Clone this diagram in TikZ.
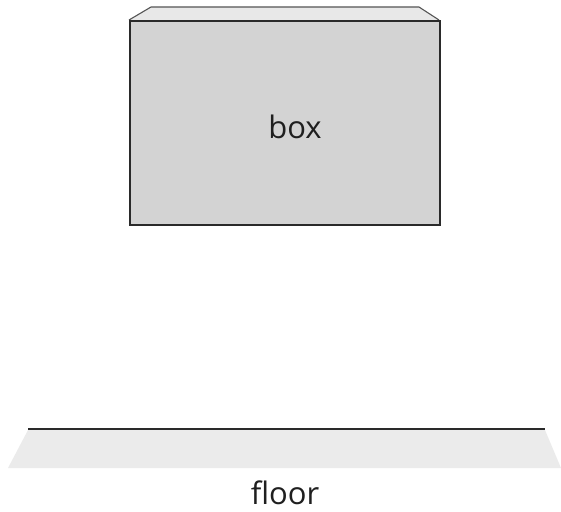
\documentclass[tikz,border=0pt]{standalone}
\usepackage{fontspec}
\setmainfont{Open Sans}
\definecolor{boxgray}{HTML}{D3D3D3}
\definecolor{topgray}{HTML}{E8E8E8}
\definecolor{floorgray}{HTML}{EBEBEB}
\definecolor{edge}{HTML}{2A2A2A}
\begin{document}
\begin{tikzpicture}[x=1pt,y=-1pt,
  edgeline/.style={draw=edge,line width=1.6pt,line join=miter},
  lbl/.style={font=\fontsize{31}{36}\selectfont,text=black!88,inner sep=0pt}]
\useasboundingbox (0,0) rectangle (561,511);
% floor
\fill[floorgray] (28,430) -- (545,430) -- (561,468) -- (8,468) -- cycle;
\coordinate (fl) at (28,429);
\coordinate (fr) at (545,429);
\draw[edgeline] (fl) -- (fr);
% box top face
\fill[topgray] (129,20) -- (151,7) -- (419,7) -- (439,20) -- cycle;
\draw[edgeline,line width=1.1pt,draw=edge!80] (129,20) -- (151,7) -- (419,7) -- (439,20);
% box front face
\node[draw=edge,line width=1.6pt,fill=boxgray,minimum width=310pt,minimum height=204pt,anchor=north west,inner sep=0pt] (box) at (129,20) {};
\node[lbl] (boxlabel) at (295,127) {box};
\node[lbl] (floorlabel) at (285,493) {floor};
\end{tikzpicture}
\end{document}
